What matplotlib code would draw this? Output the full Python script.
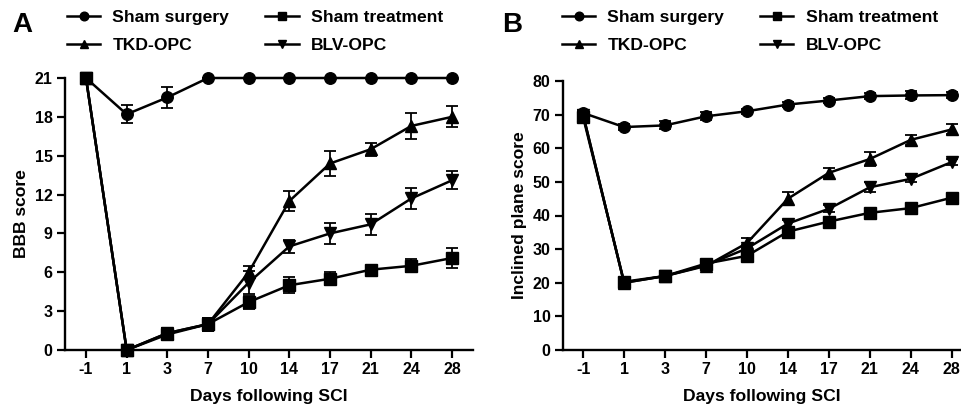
import matplotlib
matplotlib.use("Agg")
import matplotlib.pyplot as plt

plt.rcParams["font.family"] = ["Liberation Sans", "DejaVu Sans"]
plt.rcParams["font.weight"] = "bold"

days = ["-1", "1", "3", "7", "10", "14", "17", "21", "24", "28"]
groups = ["Sham surgery", "Sham treatment", "TKD-OPC", "BLV-OPC"]
markers = ["o", "s", "^", "v"]

# Panel A - BBB score
bbb_sham_surgery = [21, 18.2, 19.5, 21, 21, 21, 21, 21, 21, 21]
bbb_sham_surgery_err = [0, 0.7, 0.8, 0, 0, 0, 0, 0, 0, 0]
bbb_sham_treatment = [21, 0, 1.2, 2.0, 3.7, 5.0, 5.5, 6.2, 6.5, 7.1]
bbb_sham_treatment_err = [0, 0, 0.4, 0.5, 0.5, 0.6, 0.5, 0.3, 0.5, 0.8]
bbb_tkd = [21, 0, 1.3, 2.0, 6.0, 11.5, 14.4, 15.5, 17.3, 18.0]
bbb_tkd_err = [0, 0, 0.4, 0.5, 0.5, 0.8, 1.0, 0.5, 1.0, 0.8]
bbb_blv = [21, 0, 1.3, 2.0, 5.2, 8.0, 9.0, 9.7, 11.7, 13.1]
bbb_blv_err = [0, 0, 0.4, 0.5, 0.9, 0.5, 0.8, 0.8, 0.8, 0.7]

# Panel B - inclined plane score
ip_sham_surgery = [70.5, 66.3, 66.8, 69.5, 71.0, 73.0, 74.2, 75.5, 75.7, 75.8]
ip_sham_surgery_err = [0.8, 0.8, 1.2, 1.2, 0.8, 0.8, 0.6, 0.8, 1.2, 0.8]
ip_sham_treatment = [69.3, 20.3, 22.0, 25.7, 28.0, 35.2, 38.2, 40.8, 42.2, 45.3]
ip_sham_treatment_err = [0.8, 0.8, 0.8, 0.8, 1.0, 1.0, 0.8, 0.8, 0.8, 1.0]
ip_tkd = [70.0, 20.0, 22.0, 25.0, 31.8, 45.0, 52.7, 56.8, 62.5, 65.6]
ip_tkd_err = [0.8, 0.8, 0.8, 0.8, 1.5, 2.0, 1.5, 2.0, 1.5, 1.5]
ip_blv = [70.0, 20.0, 22.0, 25.2, 30.2, 37.6, 42.0, 48.4, 50.9, 55.9]
ip_blv_err = [0.8, 0.8, 0.8, 0.8, 1.0, 1.0, 1.0, 1.5, 1.0, 1.0]

x = list(range(len(days)))

fig = plt.figure(figsize=(9.62, 4.09), dpi=100)
axA = fig.add_axes([65 / 962, 1 - 350 / 409, (473 - 65) / 962, (350 - 78) / 409])
axB = fig.add_axes([563 / 962, 1 - 350 / 409, (960 - 563) / 962, (350 - 81) / 409])

msizes = {"o": 8.3, "s": 8, "^": 8, "v": 8}


def draw(ax, series, errs, yticks, ylabel, xlim):
    for vals, err, lab, m in zip(series, errs, groups, markers):
        ax.errorbar(x, vals, yerr=err, color="black", marker=m, markersize=msizes[m],
                    linewidth=1.8, elinewidth=1.3, capsize=4, capthick=1.3,
                    label=lab, clip_on=False)
    ax.set_xlim(*xlim)
    ax.set_ylim(yticks[0], yticks[-1])
    ax.set_xticks(x)
    ax.set_xticklabels(days)
    ax.set_yticks(yticks)
    ax.tick_params(axis="both", direction="out", length=6, width=1.6,
                   labelsize=11.5, pad=3)
    for lbl in ax.get_xticklabels() + ax.get_yticklabels():
        lbl.set_fontweight("bold")
    for s in ["top", "right"]:
        ax.spines[s].set_visible(False)
    for s in ["left", "bottom"]:
        ax.spines[s].set_linewidth(1.7)
    ax.set_xlabel("Days following SCI", fontsize=12.6, fontweight="bold", labelpad=8)
    ax.set_ylabel(ylabel, fontsize=12.6, fontweight="bold", labelpad=4)


draw(axA,
     [bbb_sham_surgery, bbb_sham_treatment, bbb_tkd, bbb_blv],
     [bbb_sham_surgery_err, bbb_sham_treatment_err, bbb_tkd_err, bbb_blv_err],
     list(range(0, 22, 3)), "BBB score", (-0.516, 9.516))
draw(axB,
     [ip_sham_surgery, ip_sham_treatment, ip_tkd, ip_blv],
     [ip_sham_surgery_err, ip_sham_treatment_err, ip_tkd_err, ip_blv_err],
     list(range(0, 81, 10)), "Inclined plane score", (-0.49, 9.2))

for ax, lx in [(axA, 67 / 962), (axB, 562 / 962)]:
    h, l = ax.get_legend_handles_labels()
    h = [hh[0] for hh in h]
    order = [0, 2, 1, 3]
    ax.legend([h[i] for i in order], [l[i] for i in order], ncol=2,
              loc="upper left", bbox_to_anchor=(lx, 1 - 10 / 409),
              bbox_transform=fig.transFigure, frameon=False,
              prop={"size": 12.6, "weight": "bold"}, borderpad=0,
              borderaxespad=0, handlelength=1.9, handletextpad=0.7,
              columnspacing=2.05, labelspacing=0.74, markerscale=0.75)

fig.text(12 / 962, 1 - 25 / 409, "A", fontsize=20, fontweight="bold", va="center")
fig.text(502 / 962, 1 - 25 / 409, "B", fontsize=20, fontweight="bold", va="center")

fig.savefig("out.png", dpi=100)
